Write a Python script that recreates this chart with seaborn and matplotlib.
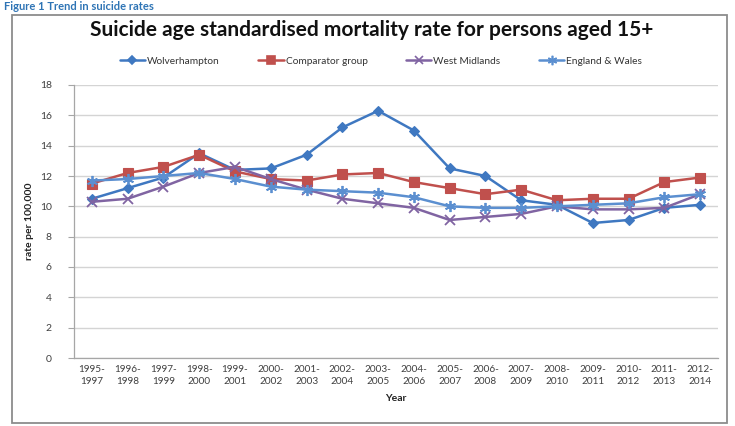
import numpy as np
import pandas as pd
import matplotlib
matplotlib.use("Agg")
import matplotlib.pyplot as plt
from matplotlib.patches import Rectangle
from matplotlib.lines import Line2D
import seaborn as sns

periods = ["1995-\n1997", "1996-\n1998", "1997-\n1999", "1998-\n2000", "1999-\n2001",
           "2000-\n2002", "2001-\n2003", "2002-\n2004", "2003-\n2005", "2004-\n2006",
           "2005-\n2007", "2006-\n2008", "2007-\n2009", "2008-\n2010", "2009-\n2011",
           "2010-\n2012", "2011-\n2013", "2012-\n2014"]

wolverhampton = [10.5, 11.2, 11.9, 13.5, 12.4, 12.5, 13.4, 15.2, 16.3, 15.0,
                 12.5, 12.0, 10.4, 10.1, 8.9, 9.1, 9.9, 10.1]
comparator = [11.5, 12.2, 12.6, 13.4, 12.3, 11.8, 11.7, 12.1, 12.2, 11.6,
              11.2, 10.8, 11.1, 10.4, 10.5, 10.5, 11.6, 11.9]
west_midlands = [10.3, 10.5, 11.3, 12.2, 12.6, 11.8, 11.1, 10.5, 10.2, 9.9,
                 9.1, 9.3, 9.5, 10.0, 9.8, 9.8, 9.9, 10.8]
england_wales = [11.7, 11.8, 12.0, 12.2, 11.8, 11.3, 11.1, 11.0, 10.9, 10.6,
                 10.0, 9.9, 9.9, 10.0, 10.1, 10.2, 10.6, 10.8]

series_names = ["Wolverhampton", "Comparator group", "West Midlands", "England & Wales"]
series_values = [wolverhampton, comparator, west_midlands, england_wales]
y_ticks = list(range(0, 19, 2))

colors = {"Wolverhampton": "#3f78c1", "Comparator group": "#c0504d",
          "West Midlands": "#8064a2", "England & Wales": "#5b8fd0"}
markers = {"Wolverhampton": "D", "Comparator group": "s",
           "West Midlands": "x", "England & Wales": (6, 2, 0)}
msizes = {"Wolverhampton": 5, "Comparator group": 6.5,
          "West Midlands": 7, "England & Wales": 8}

rows = []
for name, vals in zip(series_names, series_values):
    for i, v in enumerate(vals):
        rows.append({"pos": i, "rate": v, "series": name})
df = pd.DataFrame(rows)

sns.set_theme(style="white")
plt.rcParams["font.family"] = ["Lato", "DejaVu Sans"]

W, H = 735, 426
fig = plt.figure(figsize=(W / 100, H / 100), dpi=100)
fig.patch.set_facecolor("white")

# outer chart frame
fig.patches.append(Rectangle((12 / W, 1 - 423 / H), 715 / W, 408 / H,
                             transform=fig.transFigure, fill=False,
                             edgecolor="#8c8c8c", lw=1.3))
# caption above the frame
fig.text(4 / W, 1 - 1 / H, "Figure 1 Trend in suicide rates", color="#2e74b5",
         fontsize=8, fontweight="bold", ha="left", va="top")

ax = fig.add_axes([74 / W, 1 - 358 / H, 644 / W, 273 / H])

for name in series_names:
    sub = df[df["series"] == name]
    thin = name in ("West Midlands", "England & Wales")
    sns.lineplot(data=sub, x="pos", y="rate", ax=ax, color=colors[name],
                 marker=markers[name], markersize=msizes[name],
                 markeredgecolor=colors[name], markeredgewidth=1.3 if thin else 0.8,
                 linewidth=1.8, legend=False, zorder=3)

ax.set_xlim(-0.5, len(periods) - 0.5)
ax.set_ylim(0, 18)
ax.set_yticks(y_ticks)
ax.set_yticklabels([str(t) for t in y_ticks], fontsize=7.5, color="#404040")
ax.set_xticks(range(len(periods)))
ax.set_xticklabels(periods, fontsize=7.2, color="#404040", linespacing=1.4)
ax.tick_params(axis="x", length=0, pad=5)
ax.tick_params(axis="y", length=4, width=0.8, color="#a6a6a6", direction="out", pad=12)
ax.yaxis.set_ticks_position("left")
# category boundary ticks on the x axis
ax.set_xticks(np.arange(-0.5, len(periods), 1.0), minor=True)
ax.tick_params(axis="x", which="minor", length=4, width=0.8, color="#a6a6a6", direction="out")

ax.grid(axis="y", color="#d4d4d4", linewidth=1.0)
ax.set_axisbelow(True)
for side in ("top", "right"):
    ax.spines[side].set_visible(False)
for side in ("left", "bottom"):
    ax.spines[side].set_color("#a6a6a6")
    ax.spines[side].set_linewidth(0.9)

ax.set_xlabel("Year", fontsize=7.5, fontweight="bold", color="#222222", labelpad=6)
ax.set_ylabel("rate per 100,000", fontsize=7.5, fontweight="bold", color="#222222", labelpad=4)

fig.text(372 / W, 1 - 30 / H,
         "Suicide age standardised mortality rate for persons aged 15+",
         ha="center", va="center", fontsize=15, fontweight="bold", color="#111111")

handles = [Line2D([0], [0], color=colors[n], marker=markers[n], lw=1.8,
                  markersize=msizes[n] * 0.85, markeredgecolor=colors[n],
                  markeredgewidth=1.2) for n in series_names]
fig.legend(handles, series_names, loc="center", bbox_to_anchor=(381 / W, 1 - 61 / H),
           ncol=4, frameon=False, fontsize=7.3, handlelength=2.5, handletextpad=0.2,
           columnspacing=3.8, labelcolor="#333333")

fig.savefig("out.png", dpi=100, facecolor="white")
